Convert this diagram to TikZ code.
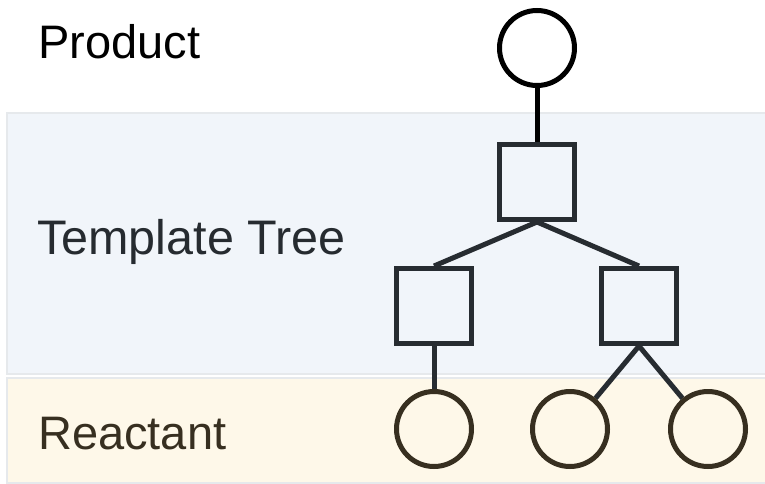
\documentclass[tikz,border=0pt]{standalone}
\usepackage{fontspec}
\setmainfont{Liberation Sans}
\definecolor{bandblue}{HTML}{F1F5FA}
\definecolor{bandyellow}{HTML}{FEF8E9}
\definecolor{bandedge}{HTML}{E6E9EC}
\definecolor{treeline}{HTML}{272C31}
\definecolor{reactline}{HTML}{372F20}
\definecolor{treetext}{HTML}{262B30}
\pgfdeclarelayer{bands}
\pgfdeclarelayer{edges}
\pgfsetlayers{bands,edges,main}
\begin{document}
\begin{tikzpicture}[x=1pt,y=-1pt,
  band/.style={draw=bandedge,line width=2pt},
  lbl/.style={anchor=base west,inner sep=0pt,font=\fontsize{47}{52}\selectfont},
  prod/.style={circle,draw=black,fill=white,line width=5pt,minimum size=75pt,inner sep=0pt},
  tmpl/.style={rectangle,draw=treeline,fill=bandblue,line width=5pt,minimum size=75pt,inner sep=0pt},
  react/.style={circle,draw=reactline,fill=bandyellow,line width=5pt,minimum size=75pt,inner sep=0pt},
  edge/.style={draw=treeline,line width=5pt}]
\useasboundingbox (0,0) rectangle (765,484);
\begin{pgfonlayer}{bands}
\fill[white] (0,0) rectangle (765,484);
\draw[band,fill=bandblue] (7,113) rectangle (775,374);
\draw[band,fill=bandyellow] (7,378) rectangle (775,483);
\end{pgfonlayer}
\node[lbl] (tp) at (38,59) {Product};
\node[lbl,text=treetext,font=\fontsize{48.5}{52}\selectfont] (tt) at (37,254) {Template Tree};
\node[lbl,text=reactline] (tr) at (38,449) {Reactant};
\node[prod] (p) at (537,48) {};
\node[tmpl] (t) at (537,182) {};
\node[tmpl] (l) at (434,306) {};
\node[tmpl] (r) at (639,306) {};
\node[react] (a) at (434,429) {};
\node[react] (b) at (570,429) {};
\node[react] (c) at (708,429) {};
\begin{pgfonlayer}{edges}
\draw[edge,draw=black] (p.south) -- (t.north);
\draw[edge] (t.south) -- (l.north);
\draw[edge] (t.south) -- (r.north);
\draw[edge] (l.south) -- (a.north);
\draw[edge] (r.south) -- (b);
\draw[edge] (r.south) -- (c);
\end{pgfonlayer}
\end{tikzpicture}
\end{document}
